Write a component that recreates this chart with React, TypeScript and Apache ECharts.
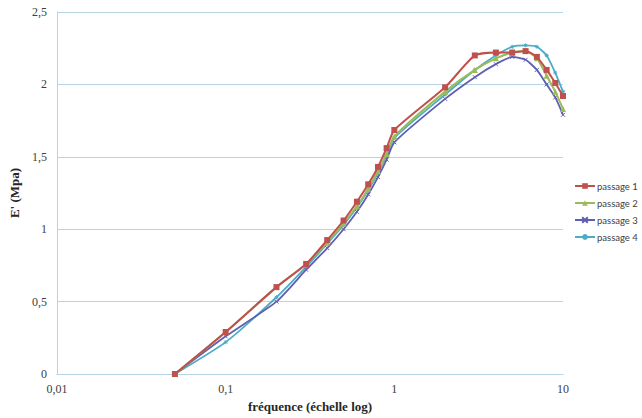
import React, { useEffect, useRef } from "react";
import * as echarts from "echarts";

const frequencies = [0.05, 0.1, 0.2, 0.3, 0.4, 0.5, 0.6, 0.7, 0.8, 0.9, 1, 2, 3, 4, 5, 6, 7, 8, 9, 10];
const passage1 = [0, 0.29, 0.6, 0.76, 0.925, 1.06, 1.19, 1.31, 1.43, 1.56, 1.685, 1.98, 2.2, 2.22, 2.22, 2.23, 2.19, 2.1, 2.01, 1.92];
const passage2 = [0, 0.29, 0.6, 0.76, 0.91, 1.04, 1.16, 1.28, 1.4, 1.52, 1.64, 1.95, 2.1, 2.18, 2.22, 2.23, 2.18, 2.06, 1.95, 1.83];
const passage3 = [0, 0.26, 0.5, 0.72, 0.87, 1.0, 1.12, 1.24, 1.36, 1.48, 1.6, 1.9, 2.05, 2.14, 2.19, 2.17, 2.1, 2.0, 1.91, 1.79];
const passage4 = [0, 0.22, 0.53, 0.74, 0.9, 1.03, 1.15, 1.27, 1.39, 1.51, 1.63, 1.93, 2.1, 2.2, 2.26, 2.27, 2.26, 2.2, 2.08, 1.95];
const seriesNames = ["passage 1", "passage 2", "passage 3", "passage 4"];
const xTitle = "fréquence (échelle log)";
const yTitle = "E' (Mpa)";

const fmt = (v: number) => String(v).replace(".", ",");

export default function App() {
  const ref = useRef<HTMLDivElement>(null);
  useEffect(() => {
    if (!ref.current) return;
    const chart = echarts.init(ref.current, undefined, { renderer: "svg" });
    const mk = (vals: number[]) => frequencies.map((f, i) => [f, vals[i]]);
    const gridColor = "#B8D2E6";
    const labelStyle = { fontFamily: "Liberation Serif", fontSize: 12, color: "#404040" };
    chart.setOption({
      animation: false,
      backgroundColor: "#ffffff",
      grid: { left: 57, right: 79, top: 12, bottom: 44, containLabel: false },
      legend: {
        orient: "vertical",
        left: 574,
        top: 181,
        padding: 0,
        itemGap: 7,
        itemWidth: 20,
        itemHeight: 7,
        data: seriesNames,
        textStyle: { fontFamily: "Lato", fontSize: 9.5, color: "#404040", padding: [0, 0, 0, -3], width: 45, overflow: "none" },
      },
      xAxis: {
        type: "log",
        logBase: 10,
        min: 0.01,
        max: 10,
        name: xTitle,
        nameLocation: "middle",
        nameGap: 26,
        nameTextStyle: { fontFamily: "Liberation Serif", fontSize: 13, fontWeight: "bold", color: "#262626" },
        axisLine: { show: true, lineStyle: { color: gridColor } },
        axisTick: { show: false },
        splitLine: { show: false },
        minorSplitLine: { show: false },
        axisLabel: { ...labelStyle, margin: 9, formatter: (v: number) => fmt(v) },
      },
      yAxis: {
        type: "value",
        min: 0,
        max: 2.5,
        interval: 0.5,
        name: yTitle,
        nameLocation: "middle",
        nameGap: 32,
        nameTextStyle: { fontFamily: "Liberation Serif", fontSize: 13, fontWeight: "bold", color: "#262626" },
        axisLine: { show: true, lineStyle: { color: gridColor } },
        axisTick: { show: false },
        splitLine: { show: true, lineStyle: { color: gridColor } },
        axisLabel: { ...labelStyle, margin: 10, formatter: (v: number) => fmt(v) },
      },
      series: [
        {
          name: seriesNames[0],
          type: "line",
          data: mk(passage1),
          smooth: 0.2,
          symbol: "rect",
          symbolSize: 6,
          itemStyle: { color: "#C0504D" },
          lineStyle: { width: 2, color: "#C0504D" },
          z: 4,
        },
        {
          name: seriesNames[1],
          type: "line",
          data: mk(passage2),
          smooth: 0.2,
          symbol: "triangle",
          symbolSize: 6,
          itemStyle: { color: "#9BBB59" },
          lineStyle: { width: 2, color: "#9BBB59" },
          z: 3,
        },
        {
          name: seriesNames[2],
          type: "line",
          data: mk(passage3),
          smooth: 0.2,
          symbol: "path://M0,0L10,10M10,0L0,10",
          symbolSize: 4,
          itemStyle: { color: "#5F5FB2", borderColor: "#5F5FB2", borderWidth: 1 },
          lineStyle: { width: 1.8, color: "#5F5FB2" },
          z: 2,
        },
        {
          name: seriesNames[3],
          type: "line",
          data: mk(passage4),
          smooth: 0.2,
          symbol: "path://M5,0L5,10M0,5L10,5M1.5,1.5L8.5,8.5M8.5,1.5L1.5,8.5",
          symbolSize: 4,
          itemStyle: { color: "#4BACC6", borderColor: "#4BACC6", borderWidth: 1 },
          lineStyle: { width: 1.8, color: "#4BACC6" },
          z: 1,
        },
      ],
    });
    return () => chart.dispose();
  }, []);
  return <div ref={ref} style={{ width: 642, height: 418, position: "absolute", left: 0, top: 0 }} />;
}
